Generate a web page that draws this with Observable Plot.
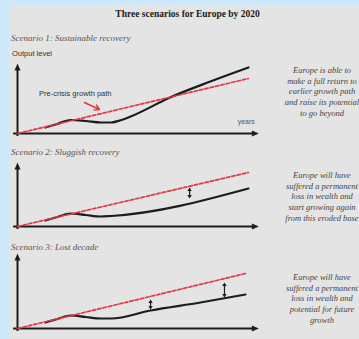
<!DOCTYPE html>
<html>
<head>
<meta charset="utf-8">
<script src="https://cdn.jsdelivr.net/npm/d3@7"></script>
<script src="https://cdn.jsdelivr.net/npm/@observablehq/plot@0.6"></script>
<style>
  html, body { margin: 0; padding: 0; }
  body { width: 359px; height: 339px; overflow: hidden; position: relative; background: #cde8fa; }
  #panel { position: absolute; left: 9px; top: 5px; right: 0; bottom: 0; background: #e4e4e4; }
  .abs { position: absolute; white-space: nowrap; }
  #title { left: 0; width: 375px; top: 9px; text-align: center; font: bold 9.5px "Liberation Serif", serif; color: #1a1a1a; }
  .stitle { left: 11px; font: italic 9px "Liberation Serif", serif; color: #555; }
  #ylab { left: 12px; top: 49px; font: 7.5px "Liberation Sans", sans-serif; color: #333; }
  .note { left: 262px; width: 120px; text-align: center; font: italic 8.5px/10.7px "Liberation Serif", serif; color: #444; }
  .plotbox { position: absolute; left: 0; }
</style>
</head>
<body>
<div id="panel"></div>
<div id="title" class="abs"></div>
<div id="ylab" class="abs"></div>
<script>
// ---- data ----
const chartTitle = "Three scenarios for Europe by 2020";
const yLabel = "Output level";
const xLabel = "years";
const pathLabel = "Pre-crisis growth path";
const scenarioTitles = ["Scenario 1: Sustainable recovery", "Scenario 2: Sluggish recovery", "Scenario 3: Lost decade"];
const notes = [
  ["Europe is able to", "make a full return to", "earlier growth path", "and raise its potential", "to go beyond"],
  ["Europe will have", "suffered a permanent", "loss in wealth and", "start growing again", "from this eroded base"],
  ["Europe will have", "suffered a permanent", "loss in wealth and", "potential for future", "growth"]
];
// output-level axis height for each scenario panel (index units)
const axisTop = [70, 64, 75];
// pre-crisis trend (years, output level)
const trendYears = [[0, 10], [0, 10], [0, 9.87]];
const trendLevels = [[0, 55], [0, 54], [0, 55]];
// actual output paths
const pathYears = [
  [1.2, 1.65, 2.3, 2.95, 3.6, 4.05, 4.5, 4.9, 6.6, 8.35, 10],
  [1.2, 1.65, 2.3, 2.95, 3.6, 4.05, 10],
  [1.2, 1.65, 2.3, 2.95, 3.6, 4.05, 5.76, 7.92, 9.87]
];
const pathLevels = [
  [6, 9, 13.5, 12.5, 11, 11, 13.5, 17, 36, 52, 66],
  [6, 9, 13, 11.5, 10, 10.5, 38],
  [6, 9, 13, 11.5, 10, 10, 18, 26, 34]
];
// output-gap double arrows: [year, upper, lower]
const gapArrows = [
  [],
  [[7.45, 39, 28]],
  [[5.76, 29, 19], [8.96, 46, 31]]
];
// annotation of trend (scenario 1)
const pointerFrom = [2.9, 31], pointerTo = [3.55, 24];
const pathLabelAt = [2.5, 40];
const xLabelAt = [9.9, 12];

// ---- layout ----
const svgTops = [59, 158, 249];
const titleTops = [33, 147, 242];
const noteTops = [65, 170, 272];

document.getElementById("title").textContent = chartTitle;
document.getElementById("ylab").textContent = yLabel;

// arrowhead symbols (tip at origin)
const head = (dx, dy, len, hw) => ({
  draw(ctx) {
    const px = -dy, py = dx;
    ctx.moveTo(0, 0);
    ctx.lineTo(-dx * len + px * hw, -dy * len + py * hw);
    ctx.lineTo(-dx * len - px * hw, -dy * len - py * hw);
    ctx.closePath();
  }
});
const bigUp = head(0, -1, 7, 3), bigRight = head(1, 0, 7, 3);
const smUp = head(0, -1, 3.5, 2.2), smDown = head(0, 1, 3.5, 2.2);

const INK = "#1c1c1c", RED = "#e23a44";

for (let i = 0; i < 3; i++) {
  const H = axisTop[i];
  const trend = trendYears[i].map((t, k) => ({t, v: trendLevels[i][k]}));
  const path = pathYears[i].map((t, k) => ({t, v: pathLevels[i][k]}));
  const gaps = gapArrows[i].map(([t, a, b]) => ({t, a, b}));
  const marks = [
    Plot.ruleY([0], {x1: -0.17, x2: 10.2, stroke: INK, strokeWidth: 2}),
    Plot.dot([0], {x: () => 10.45, y: 0, symbol: bigRight, r: 3, fill: INK, stroke: null}),
    Plot.ruleX([0], {y1: -3, y2: H - 4, stroke: INK, strokeWidth: 2}),
    Plot.dot([0], {x: 0, y: () => H, symbol: bigUp, r: 3, fill: INK, stroke: null}),
    Plot.line(path, {x: "t", y: "v", stroke: INK, strokeWidth: 2.2, curve: "monotone-x"}),
    Plot.line(trend, {x: "t", y: "v", stroke: RED, strokeWidth: 1.7, strokeDasharray: "3.5,2"}),
    Plot.ruleX(gaps, {x: "t", y1: d => d.a - 2, y2: d => d.b + 2, stroke: INK, strokeWidth: 1.2}),
    Plot.dot(gaps, {x: "t", y: "a", symbol: smUp, r: 2, fill: INK, stroke: null}),
    Plot.dot(gaps, {x: "t", y: "b", symbol: smDown, r: 2, fill: INK, stroke: null})
  ];
  if (i === 0) {
    marks.push(
      Plot.arrow([0], {x1: () => pointerFrom[0], y1: () => pointerFrom[1], x2: () => pointerTo[0], y2: () => pointerTo[1], stroke: RED, strokeWidth: 1.6, headLength: 5}),
      Plot.text([pathLabel], {x: () => pathLabelAt[0], y: () => pathLabelAt[1], text: d => d, fontSize: 7.5, fontFamily: "Liberation Sans, sans-serif", fill: "#333"}),
      Plot.text([xLabel], {x: () => xLabelAt[0], y: () => xLabelAt[1], text: d => d, fontSize: 7, fontFamily: "Liberation Sans, sans-serif", fill: "#555"})
    );
  }
  const svg = Plot.plot({
    width: 265, height: H + 10,
    marginLeft: 17, marginRight: 17, marginTop: 4, marginBottom: 6,
    x: {domain: [0, 10], axis: null},
    y: {domain: [0, H], axis: null},
    style: {background: "transparent", overflow: "visible"},
    marks
  });
  const box = document.createElement("div");
  box.className = "plotbox";
  box.style.top = svgTops[i] + "px";
  box.appendChild(svg);
  document.body.appendChild(box);

  const st = document.createElement("div");
  st.className = "abs stitle";
  st.style.top = titleTops[i] + "px";
  st.textContent = scenarioTitles[i];
  document.body.appendChild(st);

  const nt = document.createElement("div");
  nt.className = "abs note";
  nt.style.top = noteTops[i] + "px";
  nt.innerHTML = notes[i].join("<br>");
  document.body.appendChild(nt);
}
</script>
</body>
</html>
